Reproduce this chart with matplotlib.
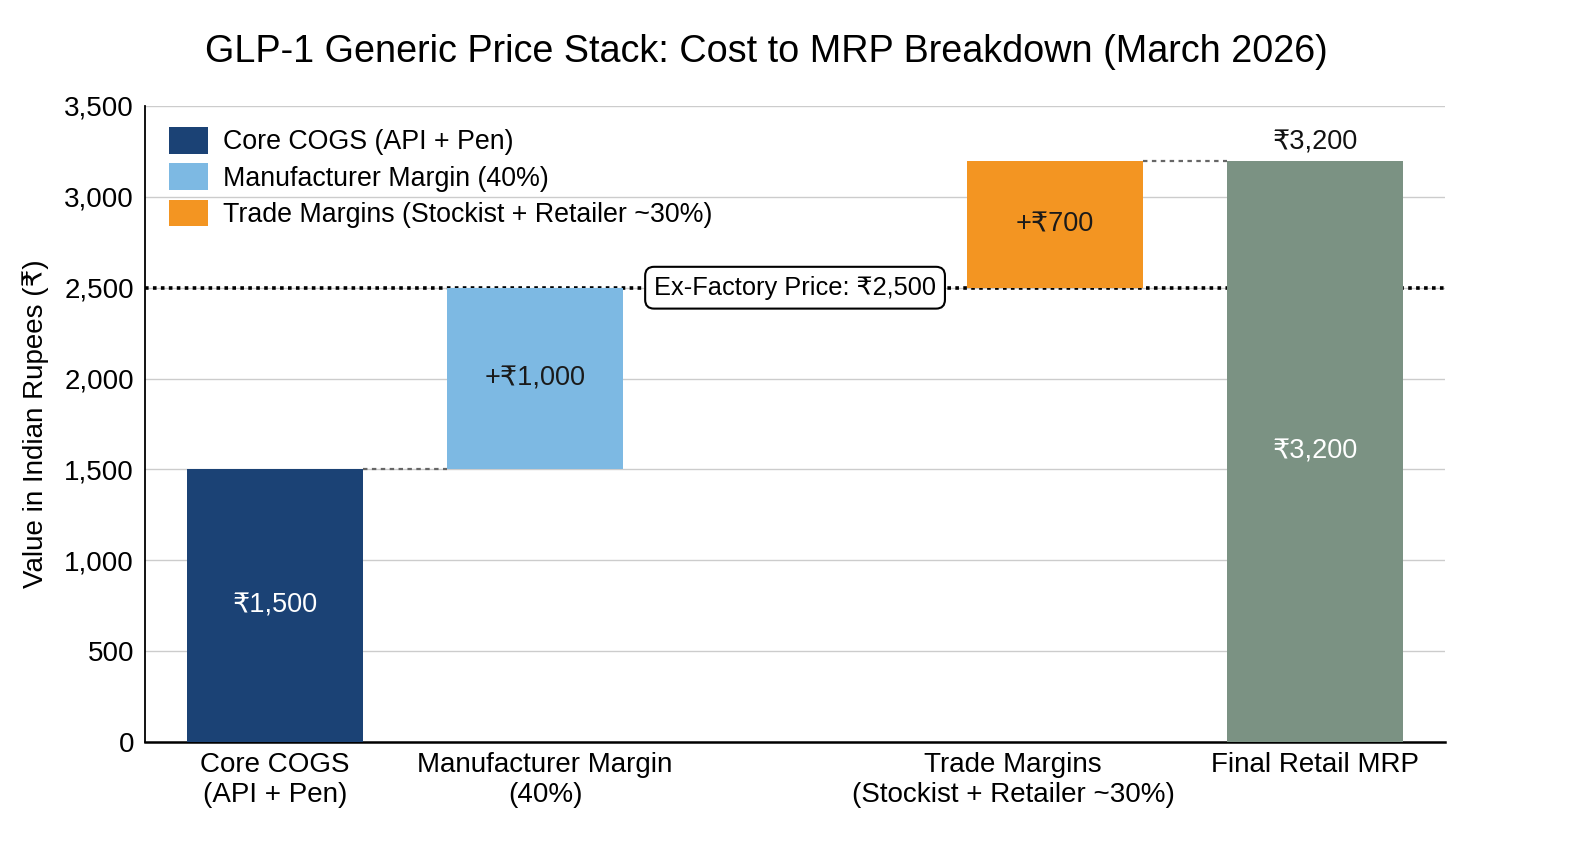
import matplotlib
matplotlib.use("Agg")
import matplotlib.pyplot as plt
import matplotlib.transforms as mtransforms

plt.rcParams['font.family'] = ['Liberation Sans', 'DejaVu Sans']

# data
categories = ["Core COGS\n(API + Pen)", "Manufacturer Margin\n(40%)", "",
              "Trade Margins\n(Stockist + Retailer ~30%)", "Final Retail MRP"]
steps = [1500, 1000, 700]
final_total = 3200
ex_factory = 2500
legend_labels = ["Core COGS (API + Pen)", "Manufacturer Margin (40%)",
                 "Trade Margins (Stockist + Retailer ~30%)"]
colors = ["#1b4275", "#7db9e3", "#f39522", "#7b9283"]

bar_pos = [0, 1, 3]
final_pos = 4
width = 0.675

fig = plt.figure(figsize=(15.7, 8.52), dpi=100)
ax = fig.add_axes([0.0924, 0.1291, 0.828, 0.7465])

# step bars
bottoms = []
running = 0
bars = []
for pos, val, col in zip(bar_pos, steps, colors[:3]):
    bottoms.append(running)
    b = ax.bar(pos, val, bottom=running, width=width, color=col, zorder=3)
    bars.append(b)
    running += val

ax.bar(final_pos, final_total, width=width, color=colors[3], zorder=3)

# labels inside bars
ax.text(bar_pos[0], bottoms[0] + steps[0] / 2, "₹{:,}".format(steps[0]),
        ha="center", va="center", color="white", fontsize=19.5, zorder=4)
ax.text(bar_pos[1], bottoms[1] + steps[1] / 2, "+₹{:,}".format(steps[1]),
        ha="center", va="center", color="#1a1a1a", fontsize=19.5, zorder=4)
ax.text(bar_pos[2], bottoms[2] + steps[2] / 2, "+₹{:,}".format(steps[2]),
        ha="center", va="center", color="#1a1a1a", fontsize=19.5, zorder=4)
ax.text(final_pos, 1600, "₹{:,}".format(final_total),
        ha="center", va="center", color="white", fontsize=19.5, zorder=4)
ax.text(final_pos, final_total + 100, "₹{:,}".format(final_total),
        ha="center", va="center", color="#111111", fontsize=19.5, zorder=4)

# connectors
ax.plot([bar_pos[0] + width / 2, bar_pos[1] - width / 2], [steps[0], steps[0]],
        ls=(0, (2, 2)), color="#666666", lw=1.6, zorder=2)
ax.plot([bar_pos[2] + width / 2, final_pos - width / 2], [final_total, final_total],
        ls=(0, (2, 2)), color="#666666", lw=1.6, zorder=2)

# ex-factory line
ax.axhline(ex_factory, color="black", ls=(0, (1, 1.2)), lw=2.6, zorder=2)
ax.text(2, ex_factory, "Ex-Factory Price: ₹{:,}".format(ex_factory),
        ha="center", va="center", fontsize=18.3, zorder=5,
        bbox=dict(boxstyle="round,pad=0.35", fc="white", ec="black", lw=1.5))

ax.set_xlim(-0.5, 4.5)
ax.set_ylim(0, 3500)
ax.set_yticks(range(0, 3501, 500))
ax.set_yticklabels(["{:,}".format(v) for v in range(0, 3501, 500)])
ax.set_xticks(range(5))
ax.set_xticklabels(categories)
ax.tick_params(axis="both", length=0, labelsize=20, pad=8)
ax.tick_params(axis="x", pad=7)
ax.yaxis.grid(True, color="#cccccc", lw=1, zorder=0)
ax.set_axisbelow(True)

# nudge the trade-margin label left as in the original
lbl = ax.get_xticklabels()[3]
lbl.set_transform(lbl.get_transform() +
                  mtransforms.ScaledTranslation(-0.42, 0, fig.dpi_scale_trans))
lbl = ax.get_xticklabels()[1]
lbl.set_transform(lbl.get_transform() +
                  mtransforms.ScaledTranslation(0.1, 0, fig.dpi_scale_trans))

for s in ["top", "right"]:
    ax.spines[s].set_visible(False)
ax.spines["left"].set_linewidth(1.3)
ax.spines["bottom"].set_linewidth(1.8)

ax.set_ylabel("Value in Indian Rupees (₹)", fontsize=20, labelpad=11)
fig.suptitle("GLP-1 Generic Price Stack: Cost to MRP Breakdown (March 2026)",
             fontsize=27.2, x=0.488, y=0.96)

handles = [b[0] for b in bars]
ax.legend(handles, legend_labels, loc="upper left", frameon=False, fontsize=19.3,
          handlelength=1.45, handleheight=1.15, handletextpad=0.55,
          labelspacing=0.3, bbox_to_anchor=(0.0, 1.005))

fig.savefig("out.png", dpi=100, facecolor="white")
